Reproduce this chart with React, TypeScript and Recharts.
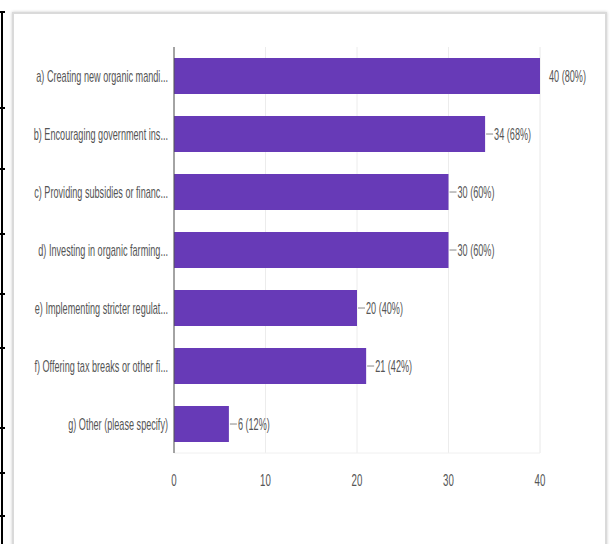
import React from 'react'
import { BarChart, Bar, XAxis, YAxis, CartesianGrid, LabelList } from 'recharts'

const categories = [
  'a) Creating new organic mandi...',
  'b) Encouraging government ins...',
  'c) Providing subsidies or financ...',
  'd) Investing in organic farming...',
  'e) Implementing stricter regulat...',
  'f) Offering tax breaks or other fi...',
  'g) Other (please specify)',
]
const counts = [40, 34, 30, 30, 20, 21, 6]
const percents = [80, 68, 60, 60, 40, 42, 12]
const xTicks = [0, 10, 20, 30, 40]
const minorTicks = [5, 15, 25, 35]

const data = categories.map((name, i) => ({ name, count: counts[i], pct: percents[i] }))

// left table border nubs (decoration from the screenshot)
const rowLines = [11, 107, 168, 233, 293, 347, 427, 472, 515]

const PURPLE = '#673ab7'
const TEXT = '#555555'
const FONT = "Arial, 'Liberation Sans', sans-serif"

const YTick = (props: any) => {
  const { x, y, payload } = props
  return (
    <g transform={`translate(${x},${y})`}>
      <text x={0} y={0} dy="0.36em" textAnchor="end" fill={TEXT} fontSize={16} fontFamily={FONT} transform="scale(0.57,1)">
        {payload.value}
      </text>
    </g>
  )
}

const XTick = (props: any) => {
  const { x, y, payload } = props
  return (
    <g transform={`translate(${x},${y})`}>
      <text x={0} y={0} dy="0.71em" textAnchor="middle" fill={TEXT} fontSize={17} fontFamily={FONT} transform="scale(0.57,1)">
        {payload.value}
      </text>
    </g>
  )
}

const ValueLabel = (props: any) => {
  const { x, y, width, height, index } = props
  const end = x + width
  const cy = y + height / 2
  const showLine = counts[index] < Math.max(...xTicks)
  return (
    <g>
      {showLine && <line x1={end + 1} x2={end + 8} y1={cy} y2={cy} stroke="#888" strokeWidth={1} />}
      <g transform={`translate(${end + 9},${cy})`}>
        <text x={0} y={0} dy="0.36em" fill={TEXT} fontSize={16} fontFamily={FONT} transform="scale(0.57,1)">
          {`${counts[index]} (${percents[index]}%)`}
        </text>
      </g>
    </g>
  )
}

const App = () => {
  return (
    <div style={{ position: 'absolute', left: 0, top: 0, width: 611, height: 544, background: '#fff', overflow: 'hidden' }}>
      {/* table border on the left */}
      <div style={{ position: 'absolute', left: 1, top: 11, width: 2, height: 533, background: '#000' }} />
      {rowLines.map((t) => (
        <div key={t} style={{ position: 'absolute', left: 0, top: t, width: 5, height: 2, background: '#000' }} />
      ))}
      {/* screenshot frame */}
      <div
        style={{
          position: 'absolute',
          left: 12,
          top: 12,
          width: 591,
          height: 540,
          border: '2px solid #dadada',
          boxShadow: '0 0 3px rgba(0,0,0,0.2)',
        }}
      />
      <div style={{ position: 'absolute', left: 0, top: 0 }}>
        <BarChart
          width={611}
          height={544}
          data={data}
          layout="vertical"
          margin={{ top: 47, right: 71, left: 14, bottom: 51 }}
          barCategoryGap="19%"
        >
          <CartesianGrid xAxisId="minor" horizontal={false} stroke="#f6f6f6" />
          <CartesianGrid horizontal={false} stroke="#ececec" />
          <XAxis type="number" xAxisId="minor" domain={[0, 40]} ticks={minorTicks} hide />
          <XAxis
            type="number"
            domain={[0, 40]}
            ticks={xTicks}
            tickLine={false}
            axisLine={{ stroke: '#f0f0f0' }}
            tick={<XTick />}
            tickMargin={15}
            height={40}
          />
          <YAxis
            type="category"
            dataKey="name"
            width={160}
            tickLine={false}
            axisLine={{ stroke: '#555555' }}
            tick={<YTick />}
            tickMargin={0}
          />
          <Bar dataKey="count" fill={PURPLE} isAnimationActive={false}>
            <LabelList dataKey="count" content={<ValueLabel />} />
          </Bar>
        </BarChart>
      </div>
    </div>
  )
}

export default App
